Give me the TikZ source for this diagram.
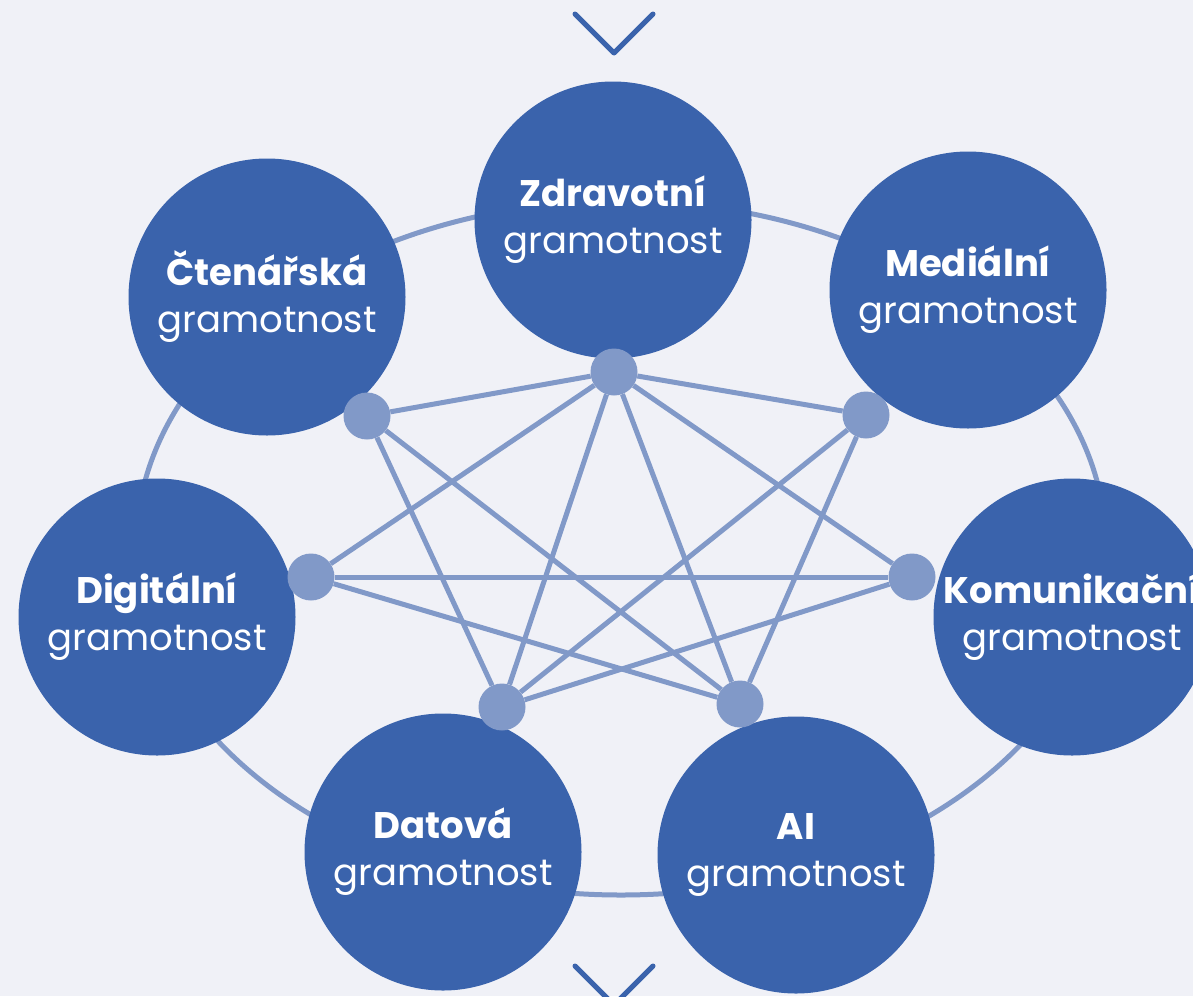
\documentclass[tikz,border=0pt]{standalone}
\usepackage{fontspec}
\setmainfont{Poppins}
\usepackage{xcolor}
\definecolor{bluedark}{HTML}{3A63AC}
\definecolor{bluelight}{HTML}{8199C8}
\definecolor{bgpale}{HTML}{F0F1F7}

\begin{document}
\begin{tikzpicture}[x=1pt,y=-1pt]
	\tikzstyle{edge} = [draw=bluelight, line width=5pt]
	\tikzstyle{lit} = [circle, fill=bluedark, minimum size=277pt, inner sep=0pt, text=white, align=center, font=\fontsize{37}{47}\selectfont]
	\tikzstyle{dot} = [circle, fill=bluelight, minimum size=47pt, inner sep=0pt]
	\tikzstyle{chevron} = [draw=bluedark, line width=5pt, line cap=round, line join=round]
	\useasboundingbox (0,0) rectangle (1193,996);
	\clip (0,0) rectangle (1193,996);
	\fill [bgpale] (0,0) rectangle (1193,996);
	\coordinate (ring) at (621,548);
	\draw [edge] (ring) ellipse (485 and 347);
		\node[lit] (zdrav) at (613,220) {\textbf{Zdravotní}\\gramotnost};
		\node[lit] (cten)  at (267,297) {\textbf{Čtenářská}\\gramotnost};
		\node[lit] (medi)  at (968,290) {\textbf{Mediální}\\gramotnost};
		\node[lit] (digi)  at (157,617) {\textbf{Digitální}\\gramotnost};
		\node[lit] (komu)  at (1072,617) {\textbf{Komunikační}\\gramotnost};
		\node[lit] (data)  at (443,852) {\textbf{Datová}\\gramotnost};
		\node[lit] (ai)    at (796,855) {\textbf{AI}\\gramotnost};
		\node[dot] (dz) at (614,372) {};
		\node[dot] (dc) at (367,416) {};
		\node[dot] (dm) at (866,415) {};
		\node[dot] (dd) at (311,577) {};
		\node[dot] (dk) at (912,577) {};
		\node[dot] (dt) at (502,707) {};
		\node[dot] (da) at (740,704) {};
	\draw [edge] (dz) -- (dc);
	\draw [edge] (dz) -- (dm);
	\draw [edge] (dz) -- (dd);
	\draw [edge] (dz) -- (dk);
	\draw [edge] (dz) -- (dt);
	\draw [edge] (dz) -- (da);
	\draw [edge] (dc) -- (dt);
	\draw [edge] (dc) -- (da);
	\draw [edge] (dm) -- (dt);
	\draw [edge] (dm) -- (da);
	\draw [edge] (dd) -- (dk);
	\draw [edge] (dd) -- (da);
	\draw [edge] (dk) -- (dt);
	\coordinate (ta) at (575,14);
	\coordinate (tb) at (614,53);
	\coordinate (tc) at (653,14);
	\coordinate (ba) at (575,966);
	\coordinate (bb) at (614,1005);
	\coordinate (bc) at (653,966);
	\draw [chevron] (ta) -- (tb) -- (tc);
	\draw [chevron] (ba) -- (bb) -- (bc);
	\end{tikzpicture}
\end{document}
